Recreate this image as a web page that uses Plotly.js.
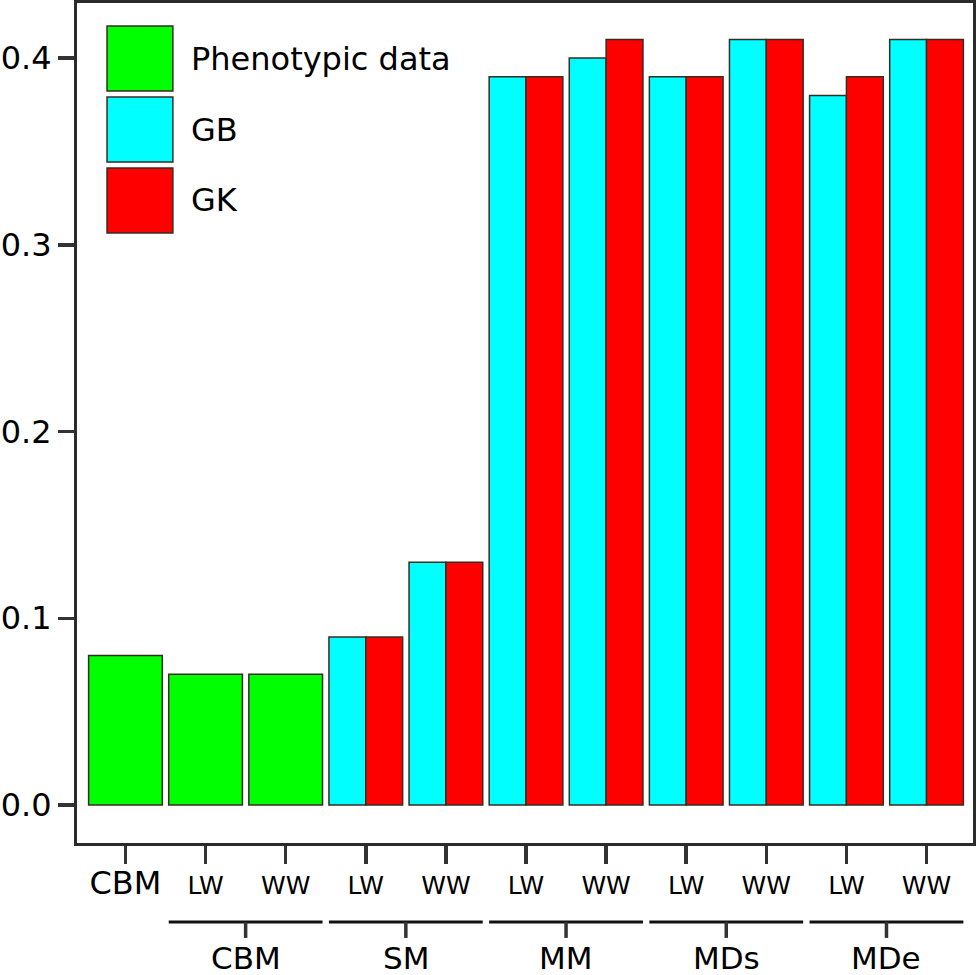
<!DOCTYPE html>
<html>
<head>
<meta charset="utf-8">
<script src="https://cdn.plot.ly/plotly-3.0.1.min.js"></script>
<style>
  html, body { margin: 0; padding: 0; background: #fff; }
  #barPlot { width: 976px; height: 975px; }
</style>
</head>
<body>
<div id="barPlot"></div>
<script>
// tick labels along the x axis (one per bar position)
var categories = ["CBM", "LW", "WW", "LW", "WW", "LW", "WW", "LW", "WW", "LW", "WW"];

// second level labels and the first / last category index of each group
var groupNames = ["CBM", "SM", "MM", "MDs", "MDe"];
var groupStart = [1, 3, 5, 7, 9];
var groupEnd = [2, 4, 6, 8, 10];

var seriesNames = ["Phenotypic data", "GB", "GK"];
var seriesColors = ["#00ff00", "#00ffff", "#ff0000"];

// phenotypic data only for the first three positions
var phenoIdx = [0, 1, 2];
var phenoVal = [0.08, 0.07, 0.07];

// genomic models for the remaining positions
var genoIdx = [3, 4, 5, 6, 7, 8, 9, 10];
var gbVal = [0.09, 0.13, 0.39, 0.40, 0.39, 0.41, 0.38, 0.41];
var gkVal = [0.09, 0.13, 0.39, 0.41, 0.39, 0.41, 0.39, 0.41];

var cb_barPlot = function () {
  let fontFam = "DejaVu Sans, Verdana, sans-serif";
  let edge = { color: "rgb(55,45,35)", width: 1.5 };
  let barW = 0.92;

  let trace1 = {
    x: phenoIdx,
    y: phenoVal,
    name: seriesNames[0],
    type: "bar",
    width: barW,
    marker: { color: seriesColors[0], line: edge },
  };

  let trace2 = {
    x: genoIdx,
    y: gbVal,
    name: seriesNames[1],
    type: "bar",
    width: barW / 2,
    offset: -barW / 2,
    marker: { color: seriesColors[1], line: edge },
  };

  let trace3 = {
    x: genoIdx,
    y: gkVal,
    name: seriesNames[2],
    type: "bar",
    width: barW / 2,
    offset: 0,
    marker: { color: seriesColors[2], line: edge },
  };

  let data = [trace1, trace2, trace3];

  // x tick labels, first one drawn bigger
  let tickText = categories.map(function (c, i) {
    return i === 0 ? '<span style="font-size:32px">' + c + "</span>" : c;
  });

  let shapes = [];
  let annotations = [];

  // group lines under the LW / WW labels
  let lineY = -0.094;
  for (let g = 0; g < groupNames.length; g++) {
    let x0 = groupStart[g] - barW / 2;
    let x1 = groupEnd[g] + barW / 2;
    let mid = (groupStart[g] + groupEnd[g]) / 2;
    shapes.push({
      type: "line", xref: "x", yref: "paper",
      x0: x0, x1: x1, y0: lineY, y1: lineY,
      line: { color: "#111", width: 3 },
    });
    shapes.push({
      type: "line", xref: "x", yref: "paper",
      x0: mid, x1: mid, y0: lineY, y1: lineY - 0.019,
      line: { color: "#333", width: 3.5 },
    });
    annotations.push({
      text: groupNames[g], xref: "x", yref: "paper",
      x: mid, y: -0.137, xanchor: "center", yanchor: "middle",
      showarrow: false, font: { family: fontFam, size: 31, color: "#000" },
    });
  }

  // legend: big colour boxes drawn by hand
  for (let s = 0; s < seriesNames.length; s++) {
    let top = 0.9726 - s * 0.0845;
    shapes.push({
      type: "rect", xref: "paper", yref: "paper",
      x0: 0.0335, x1: 0.107, y0: top - 0.0774, y1: top,
      fillcolor: seriesColors[s], line: edge,
    });
    annotations.push({
      text: seriesNames[s], xref: "paper", yref: "paper",
      x: 0.125, y: top - 0.0387, xanchor: "left", yanchor: "middle",
      showarrow: false, font: { family: fontFam, size: 32, color: "#000" },
    });
  }

  let layout = {
    width: 976,
    height: 975,
    margin: { l: 77, r: 3, b: 132, t: 3, pad: 0 },
    paper_bgcolor: "#fff",
    plot_bgcolor: "#fff",
    showlegend: false,
    barmode: "overlay",
    font: { family: fontFam, color: "#000" },

    xaxis: {
      range: [-0.605, 10.58],
      tickmode: "array",
      tickvals: categories.map(function (c, i) { return i; }),
      ticktext: tickText,
      tickfont: { size: 25, color: "#000" },
      ticks: "outside",
      ticklen: 18,
      tickwidth: 3.5,
      tickcolor: "#333",
      showgrid: false,
      zeroline: false,
      showline: true,
      mirror: true,
      linecolor: "#2b2b2b",
      linewidth: 3,
      fixedrange: true,
    },
    yaxis: {
      range: [-0.02035, 0.4295],
      tickmode: "linear",
      tick0: 0,
      dtick: 0.1,
      tickformat: ".1f",
      tickfont: { size: 32, color: "#000" },
      ticks: "outside",
      ticklen: 16,
      tickwidth: 3.5,
      tickcolor: "#333",
      showgrid: false,
      zeroline: false,
      showline: true,
      mirror: true,
      linecolor: "#2b2b2b",
      linewidth: 3,
      fixedrange: true,
    },

    shapes: shapes,
    annotations: annotations,
  };
  // end layout

  let config = { displayModeBar: false, staticPlot: true };

  Plotly.newPlot("barPlot", data, layout, config);
};

if (document.readyState !== "loading") {
  cb_barPlot();
} else {
  document.addEventListener("DOMContentLoaded", cb_barPlot);
}
</script>
</body>
</html>
